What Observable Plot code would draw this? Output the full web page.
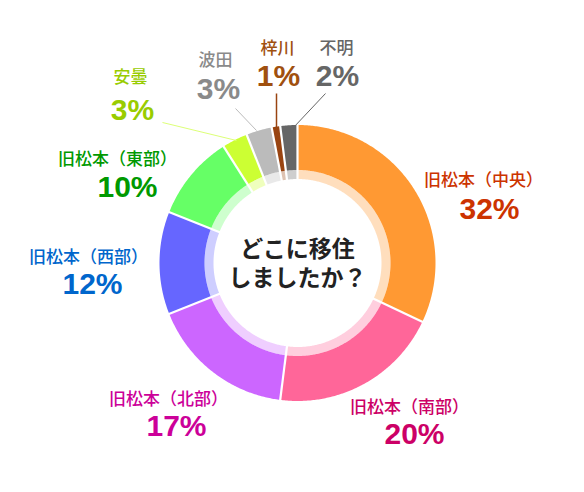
<!DOCTYPE html>
<html><head><meta charset="utf-8">
<script src="https://cdn.jsdelivr.net/npm/d3@7"></script>
<script src="https://cdn.jsdelivr.net/npm/@observablehq/plot@0.6"></script>
<style>body{margin:0;background:#fff}#chart{width:584px;height:492px}</style>
</head><body><div id="chart"></div>
<script>
// ---- data ----
const categories = ["旧松本（中央）","旧松本（南部）","旧松本（北部）","旧松本（西部）","旧松本（東部）","安曇","波田","梓川","不明"];
const percents = [32, 20, 17, 12, 10, 3, 3, 1, 2];
const centerLines = ["どこに移住", "しましたか？"];

// ---- styles ----
const sliceColors = ["#FF9933","#FF6699","#CC66FF","#6666FF","#66FF66","#CCFF33","#BBBBBB","#994411","#666666"];
const labelColors = ["#CC3300","#CC0066","#CC0099","#0066CC","#009900","#99CC00","#8A8A8A","#A0500F","#666666"];

// ---- layout ----
const W = 584, H = 492, cx = 297, cy = 262.5;
const R = 138, rMid = 93, rIn = 84;
// [nameX, nameY, pctX, pctY]
const labelPos = [
  [483,180,489,209],[409,407,414,434],[168,399,176,426],[88,257,92,284],
  [117,159,127,187],[130,77,132,110],[215,60,218,89],[277,48,278,76],[336,48,337,76]
];
// leader lines [x1,y1,x2,y2] for small slices
const leaders = [
  {i:5, p:[162,122,236,140]},
  {i:6, p:[235,108,256,130]},
  {i:7, p:[276,93,276,129]},
  {i:8, p:[325,93,293,127]}
];

const pie = d3.pie().sort(null).value(d => d)(percents);
const polar = (r, a) => [cx + r * Math.sin(a), cy - r * Math.cos(a)];

function ring(rOut, rInner, tag) {
  const pts = [];
  pie.forEach((p, i) => {
    const span = p.endAngle - p.startAngle;
    const n = Math.max(2, Math.ceil(span / 0.01));
    const poly = [];
    for (let k = 0; k <= n; k++) poly.push(polar(rOut, p.startAngle + span * k / n));
    for (let k = n; k >= 0; k--) poly.push(polar(rInner, p.startAngle + span * k / n));
    poly.push(poly[0]);
    poly.forEach(([x, y]) => pts.push({key: tag + i, i, x, y}));
  });
  return pts;
}
const outer = ring(R, rMid, "o");
const inner = ring(rMid, rIn, "i");
const seps = pie.map(p => {
  const [x1, y1] = polar(rIn - 1, p.startAngle);
  const [x2, y2] = polar(R + 1, p.startAngle);
  return {x1, y1, x2, y2};
});
const names = categories.map((c, i) => ({t: c, i, x: labelPos[i][0], y: labelPos[i][1]}));
const pcts = percents.map((v, i) => ({t: v + "%", i, x: labelPos[i][2], y: labelPos[i][3]}));
const leaderData = leaders.map(d => ({i: d.i, x1: d.p[0], y1: d.p[1], x2: d.p[2], y2: d.p[3]}));
const centerData = [{t: centerLines.join("\n"), x: cx, y: 261.5}];

const chart = Plot.plot({
  width: W, height: H, margin: 0,
  x: {domain: [0, W], range: [0, W], axis: null},
  y: {domain: [0, H], range: [0, H], axis: null},
  color: {type: "identity"},
  style: {fontFamily: "'Noto Sans CJK JP', sans-serif", background: "white"},
  marks: [
    Plot.line(outer, {x: "x", y: "y", z: "key", fill: d => sliceColors[d.i], stroke: "none", curve: "linear"}),
    Plot.line(inner, {x: "x", y: "y", z: "key", fill: d => sliceColors[d.i], fillOpacity: 0.32, stroke: "none", curve: "linear"}),
    Plot.link(seps, {x1: "x1", y1: "y1", x2: "x2", y2: "y2", stroke: "white", strokeWidth: 2.2}),
    Plot.link(leaderData, {x1: "x1", y1: "y1", x2: "x2", y2: "y2", stroke: d => d.i === 5 ? "#DDFF77" : d.i === 6 ? "#BBBBBB" : sliceColors[d.i], strokeWidth: d => d.i === 7 ? 1.5 : 1}),
    Plot.text(names, {x: "x", y: "y", text: "t", fill: d => labelColors[d.i], fontSize: 17, fontWeight: 500}),
    Plot.text(pcts, {x: "x", y: "y", text: "t", fill: d => labelColors[d.i], fontSize: 30, fontWeight: "bold", fontFamily: "'Liberation Sans', Arial, sans-serif"}),
    Plot.text(centerData, {x: "x", y: "y", text: "t", fill: "#222", fontSize: 23, fontWeight: "bold", lineHeight: 1.26})
  ]
});
document.getElementById("chart").appendChild(chart);
</script>
</body></html>
